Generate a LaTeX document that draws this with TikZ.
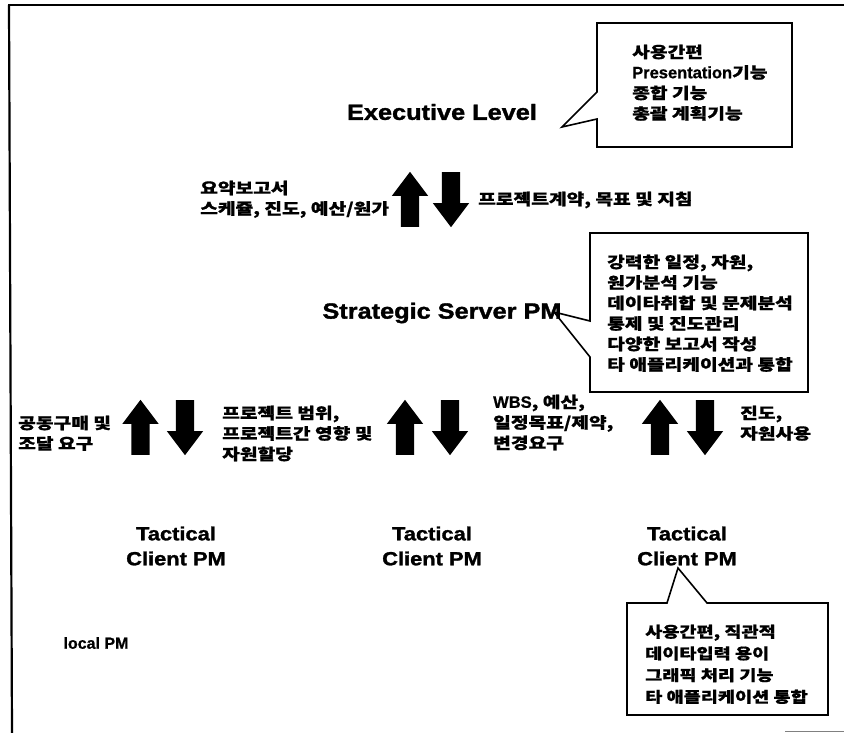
\documentclass[tikz,border=0pt]{standalone}
\usepackage{fontspec}
\setmainfont{Liberation Sans}
\newfontfamily\kr{Noto Sans CJK KR}[FakeStretch=1.24, FakeBold=0.8]
\newfontfamily\hd{Liberation Sans}[FakeStretch=1.15, FakeBold=1.5]
\newfontfamily\lat{Liberation Sans}[FakeBold=0.8]
\usetikzlibrary{shapes.arrows}
\begin{document}
\begin{tikzpicture}[x=1pt,y=-1pt,
  level/.style={font=\hd\bfseries\fontsize{22}{24}\selectfont},
  tactical/.style={font=\hd\bfseries\fontsize{19}{25}\selectfont, align=center},
  lbl/.style={font=\kr\bfseries\fontsize{15.5}{20.5}\selectfont, align=left, inner sep=0pt, anchor=north west},
  callout/.style={line width=1.6pt, line join=miter},
  blockarrow/.style={single arrow, fill=black, minimum height=55pt, inner sep=9pt,
    single arrow head extend=9pt, single arrow tip angle=74, anchor=tail},
  uparrow/.style={blockarrow, rotate=90},
  downarrow/.style={blockarrow, rotate=-90}]
  \useasboundingbox (0,0) rectangle (844,733);

  % frame of the scan
  \draw[line width=2.2pt] (8,5) -- (844,5);
  \draw[line width=2.2pt] (9,5) -- (12,733);
  \draw[gray, line width=0.8pt] (785,731) -- (844,731);

  % levels
  \node[level] (exec) at (442,112) {Executive Level};
  \node[level] (strat) at (442,313) {Strategic Server PM};
  \node[tactical] (tac1) at (176,546) {Tactical\\Client PM};
  \node[tactical] (tac2) at (432,546) {Tactical\\Client PM};
  \node[tactical] (tac3) at (687,546) {Tactical\\Client PM};
  \node[font=\lat\bfseries\fontsize{16}{18}\selectfont, anchor=west] (local) at (60,643) {local PM};

  % executive <-> strategic (tails: bottom of up arrow, top of down arrow)
  \node[uparrow] (eup) at (410,227) {};
  \node[downarrow] (edown) at (451,172) {};
  \node[lbl] (erep) at (200,180.5) {요약보고서\\스케쥴, 진도, 예산/원가};
  \node[lbl, anchor=west] (eplan) at (478,200) {프로젝트계약, 목표 및 지침};

  % strategic <-> tactical
  \node[uparrow] (t1up) at (140.5,455) {};
  \node[downarrow] (t1down) at (185,400) {};
  \node[uparrow] (t2up) at (405,455) {};
  \node[downarrow] (t2down) at (450,400) {};
  \node[uparrow] (t3up) at (660,455) {};
  \node[downarrow] (t3down) at (705,400) {};
  \node[lbl] (buy) at (18,415.5) {공동구매 및\\조달 요구};
  \node[lbl] (scope) at (222,405.5) {프로젝트 범위,\\프로젝트간 영향 및\\자원할당};
  \node[lbl] (wbs) at (493,394.5) {{\lat\fontsize{16.5}{20.5}\selectfont WBS}, 예산,\\일정목표/제약,\\변경요구};
  \node[lbl] (prog) at (740,405.5) {진도,\\자원사용};

  % callouts
  \draw[callout] (597,23) -- (792,23) -- (792,147) -- (597,147) -- (597,119)
    -- (562,127) -- (597,92) -- cycle;
  \node[lbl] (execnote) at (632,44.5) {사용간편\\{\lat\fontsize{16.5}{20.5}\selectfont Presentation}기능\\종합 기능\\총괄 계획기능};

  \draw[callout] (590,233) -- (808,233) -- (808,392) -- (590,392) -- (590,357)
    -- (554,312) -- (590,321) -- cycle;
  \node[lbl] (stratnote) at (607,254.5) {강력한 일정, 자원,\\원가분석 기능\\데이타취합 및 문제분석\\통제 및 진도관리\\다양한 보고서 작성\\타 애플리케이션과 통합};

  \draw[callout] (627,603) -- (667,603) -- (678,568) -- (707,603) -- (828,603)
    -- (828,715) -- (627,715) -- cycle;
  \node[lbl, font=\kr\bfseries\fontsize{15}{21.7}\selectfont] (tacnote) at (645,624.5) {사용간편, 직관적\\데이타입력 용이\\그래픽 처리 기능\\타 애플리케이션 통합};
\end{tikzpicture}
\end{document}
